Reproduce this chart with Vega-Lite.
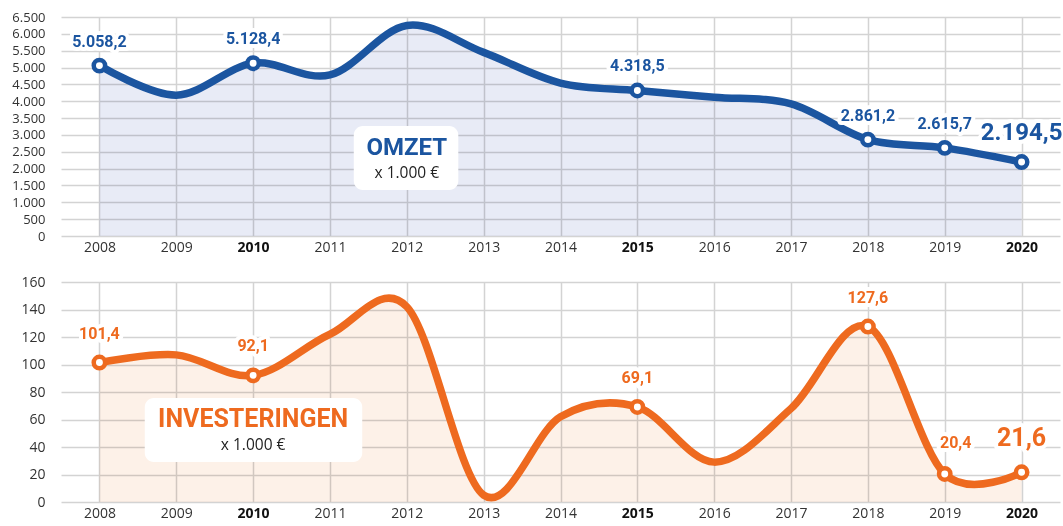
{
  "$schema": "https://vega.github.io/schema/vega-lite/v6.json",
  "padding": {"left": 0, "top": 9, "right": 3, "bottom": 4},
  "bounds": "flush",
  "spacing": 46,
  "config": {
    "locale": {"number": {"decimal": ",", "thousands": ".", "grouping": [3], "currency": ["", " €"]}},
    "view": {"stroke": null},
    "axis": {
      "domain": false, "ticks": false, "gridColor": "#d3d3d3", "gridWidth": 1.5,
      "labelFont": "Open Sans", "labelFontSize": 14, "labelColor": "#333333", "title": null
    }
  },
  "datasets": {
    "d": [
      {"year": 2008, "omzet": 5058.2, "inv": 101.4},
      {"year": 2009, "omzet": 4180, "inv": 107},
      {"year": 2010, "omzet": 5128.4, "inv": 92.1},
      {"year": 2011, "omzet": 4780, "inv": 122},
      {"year": 2012, "omzet": 6250, "inv": 142},
      {"year": 2013, "omzet": 5450, "inv": 5},
      {"year": 2014, "omzet": 4540, "inv": 62},
      {"year": 2015, "omzet": 4318.5, "inv": 69.1},
      {"year": 2016, "omzet": 4120, "inv": 29},
      {"year": 2017, "omzet": 3920, "inv": 68},
      {"year": 2018, "omzet": 2861.2, "inv": 127.6},
      {"year": 2019, "omzet": 2615.7, "inv": 20.4},
      {"year": 2020, "omzet": 2194.5, "inv": 21.6}
    ]
  },
  "vconcat": [
    {
      "width": 999, "height": 219,
      "data": {"name": "d"},
      "encoding": {
        "x": {"field": "year", "type": "quantitative", "scale": {"domain": [2007.5, 2020.5]},
          "axis": {"values": [2008,2009,2010,2011,2012,2013,2014,2015,2016,2017,2018,2019,2020], "format": "d", "labelPadding": 4,
            "labelFontWeight": {"condition": {"test": "datum.value == 2010 || datum.value == 2015 || datum.value == 2020", "value": "bold"}, "value": "normal"},
            "labelColor": {"condition": {"test": "datum.value == 2010 || datum.value == 2015 || datum.value == 2020", "value": "#111111"}, "value": "#333333"}}},
        "y": {"field": "omzet", "type": "quantitative", "scale": {"domain": [0, 6500]},
          "axis": {"values": [0,500,1000,1500,2000,2500,3000,3500,4000,4500,5000,5500,6000,6500], "format": ",d", "labelFontSize": 13, "labelPadding": 16, "minExtent": 61, "maxExtent": 61}}
      },
      "layer": [
        {"mark": {"type": "area", "interpolate": "cardinal", "color": "#e8ebf6", "blend": "multiply"}},
        {"transform": [{"filter": {"field": "year", "equal": 2012}}], "mark": {"type": "rect", "color": "white", "cornerRadius": 9, "opacity": 1},
          "encoding": {"x": {"datum": 2011.31, "type": "quantitative"}, "x2": {"datum": 2012.67}, "y": {"datum": 3265, "type": "quantitative"}, "y2": {"datum": 1365}}},
        {"transform": [{"filter": {"field": "year", "equal": 2012}}], "mark": {"type": "text", "font": "Roboto", "fontWeight": "bold", "fontSize": 24, "color": "#1b55a0", "baseline": "middle"},
          "encoding": {"x": {"datum": 2012, "type": "quantitative"}, "y": {"datum": 2600, "type": "quantitative"}, "text": {"value": "OMZET"}}},
        {"transform": [{"filter": {"field": "year", "equal": 2012}}], "mark": {"type": "text", "font": "Open Sans", "fontSize": 15.5, "color": "#222222", "baseline": "middle"},
          "encoding": {"x": {"datum": 2012, "type": "quantitative"}, "y": {"datum": 1880, "type": "quantitative"}, "text": {"value": "x 1.000 €"}}},
        {"mark": {"type": "line", "interpolate": "cardinal", "color": "#1b55a0", "strokeWidth": 7.5}},
        {"transform": [{"filter": {"field": "year", "oneOf": [2008, 2010, 2015, 2018, 2019, 2020]}}],
          "mark": {"type": "point", "shape": "circle", "filled": true, "fill": "white", "stroke": "#1b55a0", "strokeWidth": 4.5, "size": 130, "opacity": 1}},
        {"transform": [{"filter": {"field": "year", "oneOf": [2008, 2010, 2015, 2018, 2019]}}],
          "mark": {"type": "text", "font": "Roboto", "fontWeight": "bold", "fontSize": 16, "dy": -24, "baseline": "middle", "stroke": "white", "strokeWidth": 8, "strokeJoin": "round", "color": "white"},
          "encoding": {"text": {"field": "omzet", "type": "quantitative", "format": ",.1f"}}},
        {"transform": [{"filter": {"field": "year", "oneOf": [2008, 2010, 2015, 2018, 2019]}}],
          "mark": {"type": "text", "font": "Roboto", "fontWeight": "bold", "fontSize": 16, "dy": -24, "baseline": "middle", "color": "#1b55a0"},
          "encoding": {"text": {"field": "omzet", "type": "quantitative", "format": ",.1f"}}},
        {"transform": [{"filter": {"field": "year", "equal": 2020}}],
          "mark": {"type": "text", "font": "Roboto", "fontWeight": "bold", "fontSize": 24, "dy": -29, "baseline": "middle", "stroke": "white", "strokeWidth": 8, "strokeJoin": "round", "color": "white"},
          "encoding": {"text": {"field": "omzet", "type": "quantitative", "format": ",.1f"}}},
        {"transform": [{"filter": {"field": "year", "equal": 2020}}],
          "mark": {"type": "text", "font": "Roboto", "fontWeight": "bold", "fontSize": 24, "dy": -29, "baseline": "middle", "color": "#1b55a0"},
          "encoding": {"text": {"field": "omzet", "type": "quantitative", "format": ",.1f"}}}
      ]
    },
    {
      "width": 999, "height": 220,
      "data": {"name": "d"},
      "encoding": {
        "x": {"field": "year", "type": "quantitative", "scale": {"domain": [2007.5, 2020.5]},
          "axis": {"values": [2008,2009,2010,2011,2012,2013,2014,2015,2016,2017,2018,2019,2020], "format": "d", "labelPadding": 4,
            "labelFontWeight": {"condition": {"test": "datum.value == 2010 || datum.value == 2015 || datum.value == 2020", "value": "bold"}, "value": "normal"},
            "labelColor": {"condition": {"test": "datum.value == 2010 || datum.value == 2015 || datum.value == 2020", "value": "#111111"}, "value": "#333333"}}},
        "y": {"field": "inv", "type": "quantitative", "scale": {"domain": [0, 160]},
          "axis": {"values": [0,20,40,60,80,100,120,140,160], "labelPadding": 16, "minExtent": 61, "maxExtent": 61}}
      },
      "layer": [
        {"mark": {"type": "area", "interpolate": "cardinal", "color": "#fdf1e8", "blend": "multiply"}},
        {"transform": [{"filter": {"field": "year", "equal": 2010}}], "mark": {"type": "rect", "color": "white", "cornerRadius": 9, "opacity": 1},
          "encoding": {"x": {"datum": 2008.59, "type": "quantitative"}, "x2": {"datum": 2011.42}, "y": {"datum": 75.6, "type": "quantitative"}, "y2": {"datum": 29.1}}},
        {"transform": [{"filter": {"field": "year", "equal": 2010}}], "mark": {"type": "text", "font": "Roboto", "fontWeight": "bold", "fontSize": 25, "color": "#ee6a1f", "baseline": "middle"},
          "encoding": {"x": {"datum": 2010, "type": "quantitative"}, "y": {"datum": 60.4, "type": "quantitative"}, "text": {"value": "INVESTERINGEN"}}},
        {"transform": [{"filter": {"field": "year", "equal": 2010}}], "mark": {"type": "text", "font": "Open Sans", "fontSize": 15.5, "color": "#222222", "baseline": "middle"},
          "encoding": {"x": {"datum": 2010, "type": "quantitative"}, "y": {"datum": 41.8, "type": "quantitative"}, "text": {"value": "x 1.000 €"}}},
        {"mark": {"type": "line", "interpolate": "cardinal", "color": "#ee6a1f", "strokeWidth": 7.5}},
        {"transform": [{"filter": {"field": "year", "oneOf": [2008, 2010, 2015, 2018, 2019, 2020]}}],
          "mark": {"type": "point", "shape": "circle", "filled": true, "fill": "white", "stroke": "#ee6a1f", "strokeWidth": 4.5, "size": 130, "opacity": 1}},
        {"transform": [{"filter": {"field": "year", "oneOf": [2008, 2010, 2015, 2018]}}],
          "mark": {"type": "text", "font": "Roboto", "fontWeight": "bold", "fontSize": 16, "dy": -29, "baseline": "middle", "stroke": "white", "strokeWidth": 8, "strokeJoin": "round", "color": "white"},
          "encoding": {"text": {"field": "inv", "type": "quantitative", "format": ",.1f"}}},
        {"transform": [{"filter": {"field": "year", "oneOf": [2008, 2010, 2015, 2018]}}],
          "mark": {"type": "text", "font": "Roboto", "fontWeight": "bold", "fontSize": 16, "dy": -29, "baseline": "middle", "color": "#ee6a1f"},
          "encoding": {"text": {"field": "inv", "type": "quantitative", "format": ",.1f"}}},
        {"transform": [{"filter": {"field": "year", "equal": 2019}}],
          "mark": {"type": "text", "font": "Roboto", "fontWeight": "bold", "fontSize": 16, "dy": -31, "dx": 11, "baseline": "middle", "stroke": "white", "strokeWidth": 8, "strokeJoin": "round", "color": "white"},
          "encoding": {"text": {"field": "inv", "type": "quantitative", "format": ",.1f"}}},
        {"transform": [{"filter": {"field": "year", "equal": 2019}}],
          "mark": {"type": "text", "font": "Roboto", "fontWeight": "bold", "fontSize": 16, "dy": -31, "dx": 11, "baseline": "middle", "color": "#ee6a1f"},
          "encoding": {"text": {"field": "inv", "type": "quantitative", "format": ",.1f"}}},
        {"transform": [{"filter": {"field": "year", "equal": 2020}}],
          "mark": {"type": "text", "font": "Roboto", "fontWeight": "bold", "fontSize": 25, "dy": -34, "baseline": "middle", "stroke": "white", "strokeWidth": 8, "strokeJoin": "round", "color": "white"},
          "encoding": {"text": {"field": "inv", "type": "quantitative", "format": ",.1f"}}},
        {"transform": [{"filter": {"field": "year", "equal": 2020}}],
          "mark": {"type": "text", "font": "Roboto", "fontWeight": "bold", "fontSize": 25, "dy": -34, "baseline": "middle", "color": "#ee6a1f"},
          "encoding": {"text": {"field": "inv", "type": "quantitative", "format": ",.1f"}}}
      ]
    }
  ]
}
